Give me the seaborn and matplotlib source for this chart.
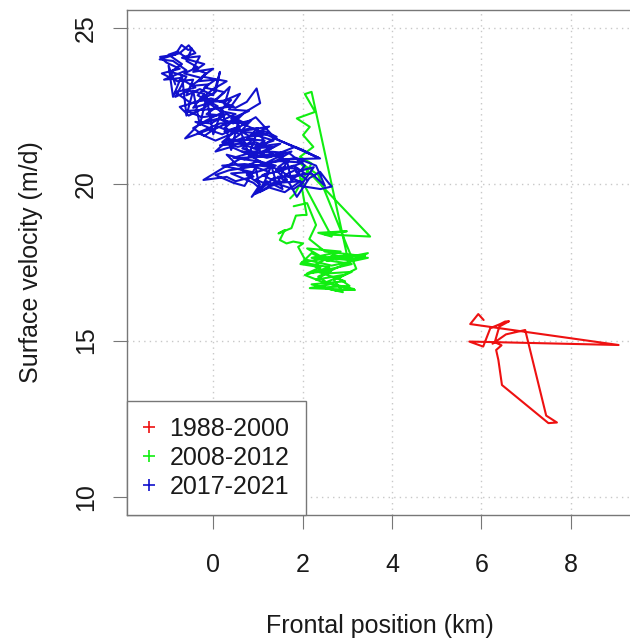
import numpy as np
import pandas as pd
import matplotlib
matplotlib.use("Agg")
import matplotlib.pyplot as plt
from matplotlib.lines import Line2D
import seaborn as sns

# ---------------- data ----------------
periods = ["1988-2000", "2008-2012", "2017-2021"]
colors = ["#EE1111", "#11EE11", "#1111CC"]

red_x = [6.05, 5.93, 5.75, 9.07, 5.73, 6.04, 6.20, 6.42, 6.53, 6.62, 6.40, 6.30,
         6.45, 6.33, 6.38, 6.46, 7.50, 7.69, 7.45, 6.98, 6.55, 6.35, 6.25]
red_y = [15.66, 15.85, 15.53, 14.86, 14.97, 14.81, 15.40, 15.53, 15.61, 15.62, 15.45, 14.95,
         14.85, 14.70, 14.38, 13.58, 12.36, 12.38, 12.60, 15.34, 15.20, 15.00, 14.90]

green_x = [1.72, 1.83, 2.20, 1.94, 2.24, 2.01, 2.16, 1.87, 2.28, 2.05, 2.20, 2.24,
           2.99, 2.55, 2.20, 1.95, 2.40, 2.10, 2.65, 2.30, 2.90, 2.50, 3.17, 2.16,
           2.60, 2.35, 3.46, 2.75, 3.46, 2.65, 2.05, 1.90, 2.01, 1.79, 1.64, 1.49,
           1.60, 1.46, 1.75, 1.85, 2.00, 2.09, 1.94, 2.65, 2.35, 2.99, 2.50, 3.51,
           1.90, 2.35, 3.20, 2.80, 3.05, 2.45, 2.90, 2.70, 3.10, 2.55, 2.25, 2.70,
           3.15, 2.40, 2.10, 2.85, 2.20, 3.10, 2.35, 2.95, 2.20, 2.75, 3.15, 2.40,
           2.05, 2.60, 1.98, 2.80, 3.40, 2.50, 2.15, 2.30, 2.10, 1.80]
green_y = [19.55, 19.71, 20.67, 20.88, 21.20, 21.58, 21.84, 22.11, 22.32, 22.89, 22.96, 22.70,
           17.75, 17.55, 17.80, 17.45, 17.35, 17.15, 17.25, 16.95, 17.10, 16.85, 16.62, 16.68,
           16.80, 17.05, 17.80, 17.60, 17.65, 17.40, 17.60, 18.00, 18.11, 18.17, 18.11, 18.22,
           18.54, 18.43, 18.60, 19.00, 19.02, 19.02, 20.24, 18.33, 18.45, 18.50, 18.40, 18.33,
           20.75, 20.30, 17.30, 17.00, 16.75, 16.70, 16.55, 16.95, 17.20, 17.15, 17.40, 17.75,
           17.55, 17.70, 17.95, 17.85, 17.65, 17.45, 17.20, 16.90, 16.80, 16.60, 16.65, 16.90,
           17.10, 17.35, 17.50, 17.70, 17.70, 17.85, 18.25, 18.70, 19.40, 19.30]

blue_x = [2.10, 1.85, 2.25, 1.95, 2.40, 2.65, 2.55, 2.39, 2.15, 1.87, 1.70, 1.45, 1.55, 1.20,
          0.86, 1.05, 0.75, 1.10, 1.40, 1.00, 0.60, 0.90, 0.50, 0.30, -0.22, 0.25, 0.65, 1.30,
          1.83, 2.39, 1.60, 1.20, 0.80, 0.40, 0.05, 0.35, 0.75, 1.10, 1.42, 1.15, 0.80, 0.50,
          0.20, -0.10, -0.63, -0.30, 0.10, 0.45, 0.70, 1.05, 0.97, 0.75, 0.50, 0.25, 0.37, 0.10,
          -0.20, -0.55, -0.75, -0.35, 0.05, 0.15, 0.00, -0.30, -0.60, -0.45, -0.80, -1.15, -0.75,
          -1.05, -1.19, -0.85, -0.71, -0.56, -0.48, -0.60, -0.35, -0.65, -0.25, -0.50, -0.10,
          -0.35, 0.10, -0.15, 0.25, -0.05, -0.40, 0.00, 0.30, 0.55, 0.25, 0.60, 0.35, 0.90, 0.65,
          1.00, 0.70, 0.30, 0.55, 0.95, 1.25, 0.95, 1.30, 1.65, 1.40, 1.80, 2.05, 1.75, 1.50,
          1.15, 0.85, 1.25, 0.95, 0.55, 0.20, 0.45, 0.10, -0.20, -0.45, -0.15, 0.20, -0.10,
          -0.45, -0.20, -0.55, -0.85, -0.60, -0.95, -0.70, -1.00, -0.80, -0.60, -0.30, -0.45,
          -0.15, -0.35, 0.05, -0.20, 0.25, 0.00, 0.40, 0.15, 0.50, 0.20, 0.55, 0.85, 0.65, 1.00,
          0.75, 1.15, 0.90, 1.35, 1.05, 1.55, 1.20, 1.70, 1.45, 1.90, 1.60, 2.00, 1.80, 1.35,
          1.10, 0.90,
          0.40, 0.85, 0.20, 0.70, 1.35, 0.95, 0.45, 1.05, 0.60, 0.15, 0.70, 1.20, 0.55, 0.05,
          -0.35, 0.15, 0.65, 0.30, -0.25, -0.60, -0.10, 0.45, -0.05, -0.50, -0.85, -0.40, -0.75,
          -1.10, -0.60, -0.90, -1.20, -0.75, -0.55, -0.40, -0.70, -0.20, -0.45, 0.00, -0.25, 0.30,
          0.00, -0.30, 0.20, 0.60, 0.35, 0.80, 0.40, 2.35, 2.00, 1.40, 0.95, 0.60, 0.25, 0.85,
          1.25, 0.90, 1.35, 0.95, 1.50, 1.10, 0.65, 1.20, 1.75, 1.40, 2.00, 1.55, 1.10, 1.45,
          1.95, 1.60, 1.25, 0.95, 1.35, 2.20, 2.50, 2.30, 1.85, 1.30, 0.80, 0.35, 0.05, 0.45, 0.70,
          0.95, 1.05, 1.30, 1.42, 1.65, 1.75, 2.05, 1.70, 1.25, 1.00, 0.80, 0.55, 0.40, 0.20,
          0.00, -0.15, -0.30, -0.45, -0.60, -0.70, -0.90, -1.00, -0.85]
blue_y = [20.15, 20.40, 20.55, 19.95, 19.85, 19.93, 20.10, 20.40, 20.20, 19.60, 20.05, 20.25,
          19.85, 20.10, 19.60, 20.00, 20.30, 20.45, 20.60, 20.75, 20.50, 20.25, 20.10, 20.24,
          20.14, 20.55, 20.85, 20.90, 21.20, 20.83, 20.80, 21.05, 20.95, 21.20, 21.05, 21.45,
          21.30, 21.25, 21.52, 21.70, 21.55, 21.80, 21.60, 21.75, 21.47, 21.95, 22.10, 21.95,
          22.30, 22.60, 23.07, 22.64, 22.45, 22.55, 23.12, 22.75, 22.45, 22.20, 22.48, 22.65,
          22.95, 23.60, 22.85, 23.05, 22.85, 23.35, 23.30, 23.55, 23.70, 23.90, 24.08, 24.15,
          24.46, 24.30, 24.35, 23.95, 23.75, 23.55, 23.40, 23.15, 23.20, 22.85, 22.50, 22.25,
          22.20, 21.95, 22.00, 21.75, 21.95, 22.15, 21.80, 21.60, 21.35, 21.45, 21.15, 21.00,
          20.80, 20.95, 20.60, 20.55, 20.40, 20.15, 19.95, 20.15, 20.45, 20.60, 20.35, 20.20,
          20.45, 20.65, 20.90, 21.15, 21.35, 21.20, 21.35, 21.65, 21.85, 21.55, 21.80, 22.05,
          22.30, 22.60, 22.45, 22.90, 23.00, 22.80, 23.45, 23.60, 23.85, 24.15, 24.25, 24.05,
          24.10, 23.70, 23.55, 23.30, 23.35, 23.10, 22.95, 22.65, 22.70, 22.35, 22.25, 22.05,
          21.95, 22.05, 21.75, 21.80, 21.45, 21.40, 21.15, 21.20, 20.95, 20.95, 20.70, 20.80,
          20.55, 20.50, 20.30, 20.05, 19.85, 20.05, 19.80, 20.05,
          20.35, 20.40, 20.60, 20.65, 20.55, 20.75, 20.85, 21.10, 21.30, 21.25, 21.50, 21.60,
          21.70, 21.40, 21.65, 21.95, 22.00, 22.25, 22.15, 22.35, 22.40, 22.50, 22.75, 22.60,
          22.95, 23.10, 23.40, 23.35, 23.65, 23.95, 24.00, 24.20, 24.45, 24.20, 24.05, 23.85,
          23.60, 23.70, 23.45, 23.30, 23.05, 22.70, 22.65, 22.90, 22.40, 22.35, 22.10, 20.85,
          21.10, 21.45, 22.15, 21.85, 21.70, 21.75, 21.85, 21.60, 21.40, 21.20, 21.30, 21.00,
          21.05, 20.85, 21.05, 20.75, 20.70, 20.45, 20.30, 20.05, 20.10, 19.75, 19.90, 19.70,
          20.20, 20.35, 19.95, 20.60, 20.85, 20.70, 20.55, 20.45, 20.30, 20.05, 19.95,
          20.55, 19.75, 20.60, 20.00, 20.75, 20.10, 20.60, 21.00, 21.05, 21.75, 20.95, 21.95,
          21.10, 22.40, 21.60, 22.80, 21.90, 23.00, 22.20, 23.50, 22.80, 23.80, 23.20]

x_ticks = [0, 2, 4, 6, 8]
y_ticks = [10, 15, 20, 25]

# ---------------- figure ----------------
sns.set_theme(style="white")
plt.rcParams["font.family"] = ["Liberation Sans", "DejaVu Sans"]

W, H = 630, 642
fig = plt.figure(figsize=(W / 100, H / 100), dpi=100)
ax = fig.add_axes([127 / W, 1 - 515 / H, (632 - 127) / W, (515 - 10) / H])

series = [(red_x, red_y), (green_x, green_y), (blue_x, blue_y)]
for (xs, ys), col in zip(series, colors):
    sns.lineplot(x=xs, y=ys, sort=False, estimator=None, color=col,
                 linewidth=1.5, ax=ax, zorder=3)

ax.set_xlim(-1.93, 9.37)
ax.set_ylim(9.42, 25.58)
ax.set_xticks(x_ticks)
ax.set_yticks(y_ticks)
ax.set_xticklabels([str(t) for t in x_ticks])
ax.set_yticklabels([str(t) for t in y_ticks], rotation=90, va="center")

for v in x_ticks:
    ax.axvline(v, color="#C8C8C8", linestyle=(0, (1, 3)), linewidth=1.0, zorder=1)
for v in y_ticks:
    ax.axhline(v, color="#C8C8C8", linestyle=(0, (1, 3)), linewidth=1.0, zorder=1)

for s in ax.spines.values():
    s.set_color("#777777")
    s.set_linewidth(1.0)
    s.set_visible(True)

ax.tick_params(axis="both", which="major", direction="out", length=10, width=0.8,
               color="#777777", labelsize=18, labelcolor="#1a1a1a",
               bottom=True, left=True)
ax.tick_params(axis="x", pad=17)
ax.tick_params(axis="y", pad=11)

ax.set_xlabel("Frontal position (km)", fontsize=18, color="#1a1a1a", labelpad=27)
ax.set_ylabel("Surface velocity (m/d)", fontsize=18, color="#1a1a1a", labelpad=22)

handles = [Line2D([], [], marker="+", linestyle="none", color=c, markersize=9,
                  markeredgewidth=1.2) for c in colors]
leg = ax.legend(handles, periods, loc="lower left", borderaxespad=0, fontsize=18,
                frameon=True, fancybox=False, framealpha=1, edgecolor="#777777",
                handlelength=0.45, handletextpad=0.6, borderpad=0.65,
                labelspacing=0.2)
leg.get_frame().set_linewidth(1.0)
leg.set_zorder(5)
for t in leg.get_texts():
    t.set_color("#1a1a1a")

fig.savefig("out.png", dpi=100)
